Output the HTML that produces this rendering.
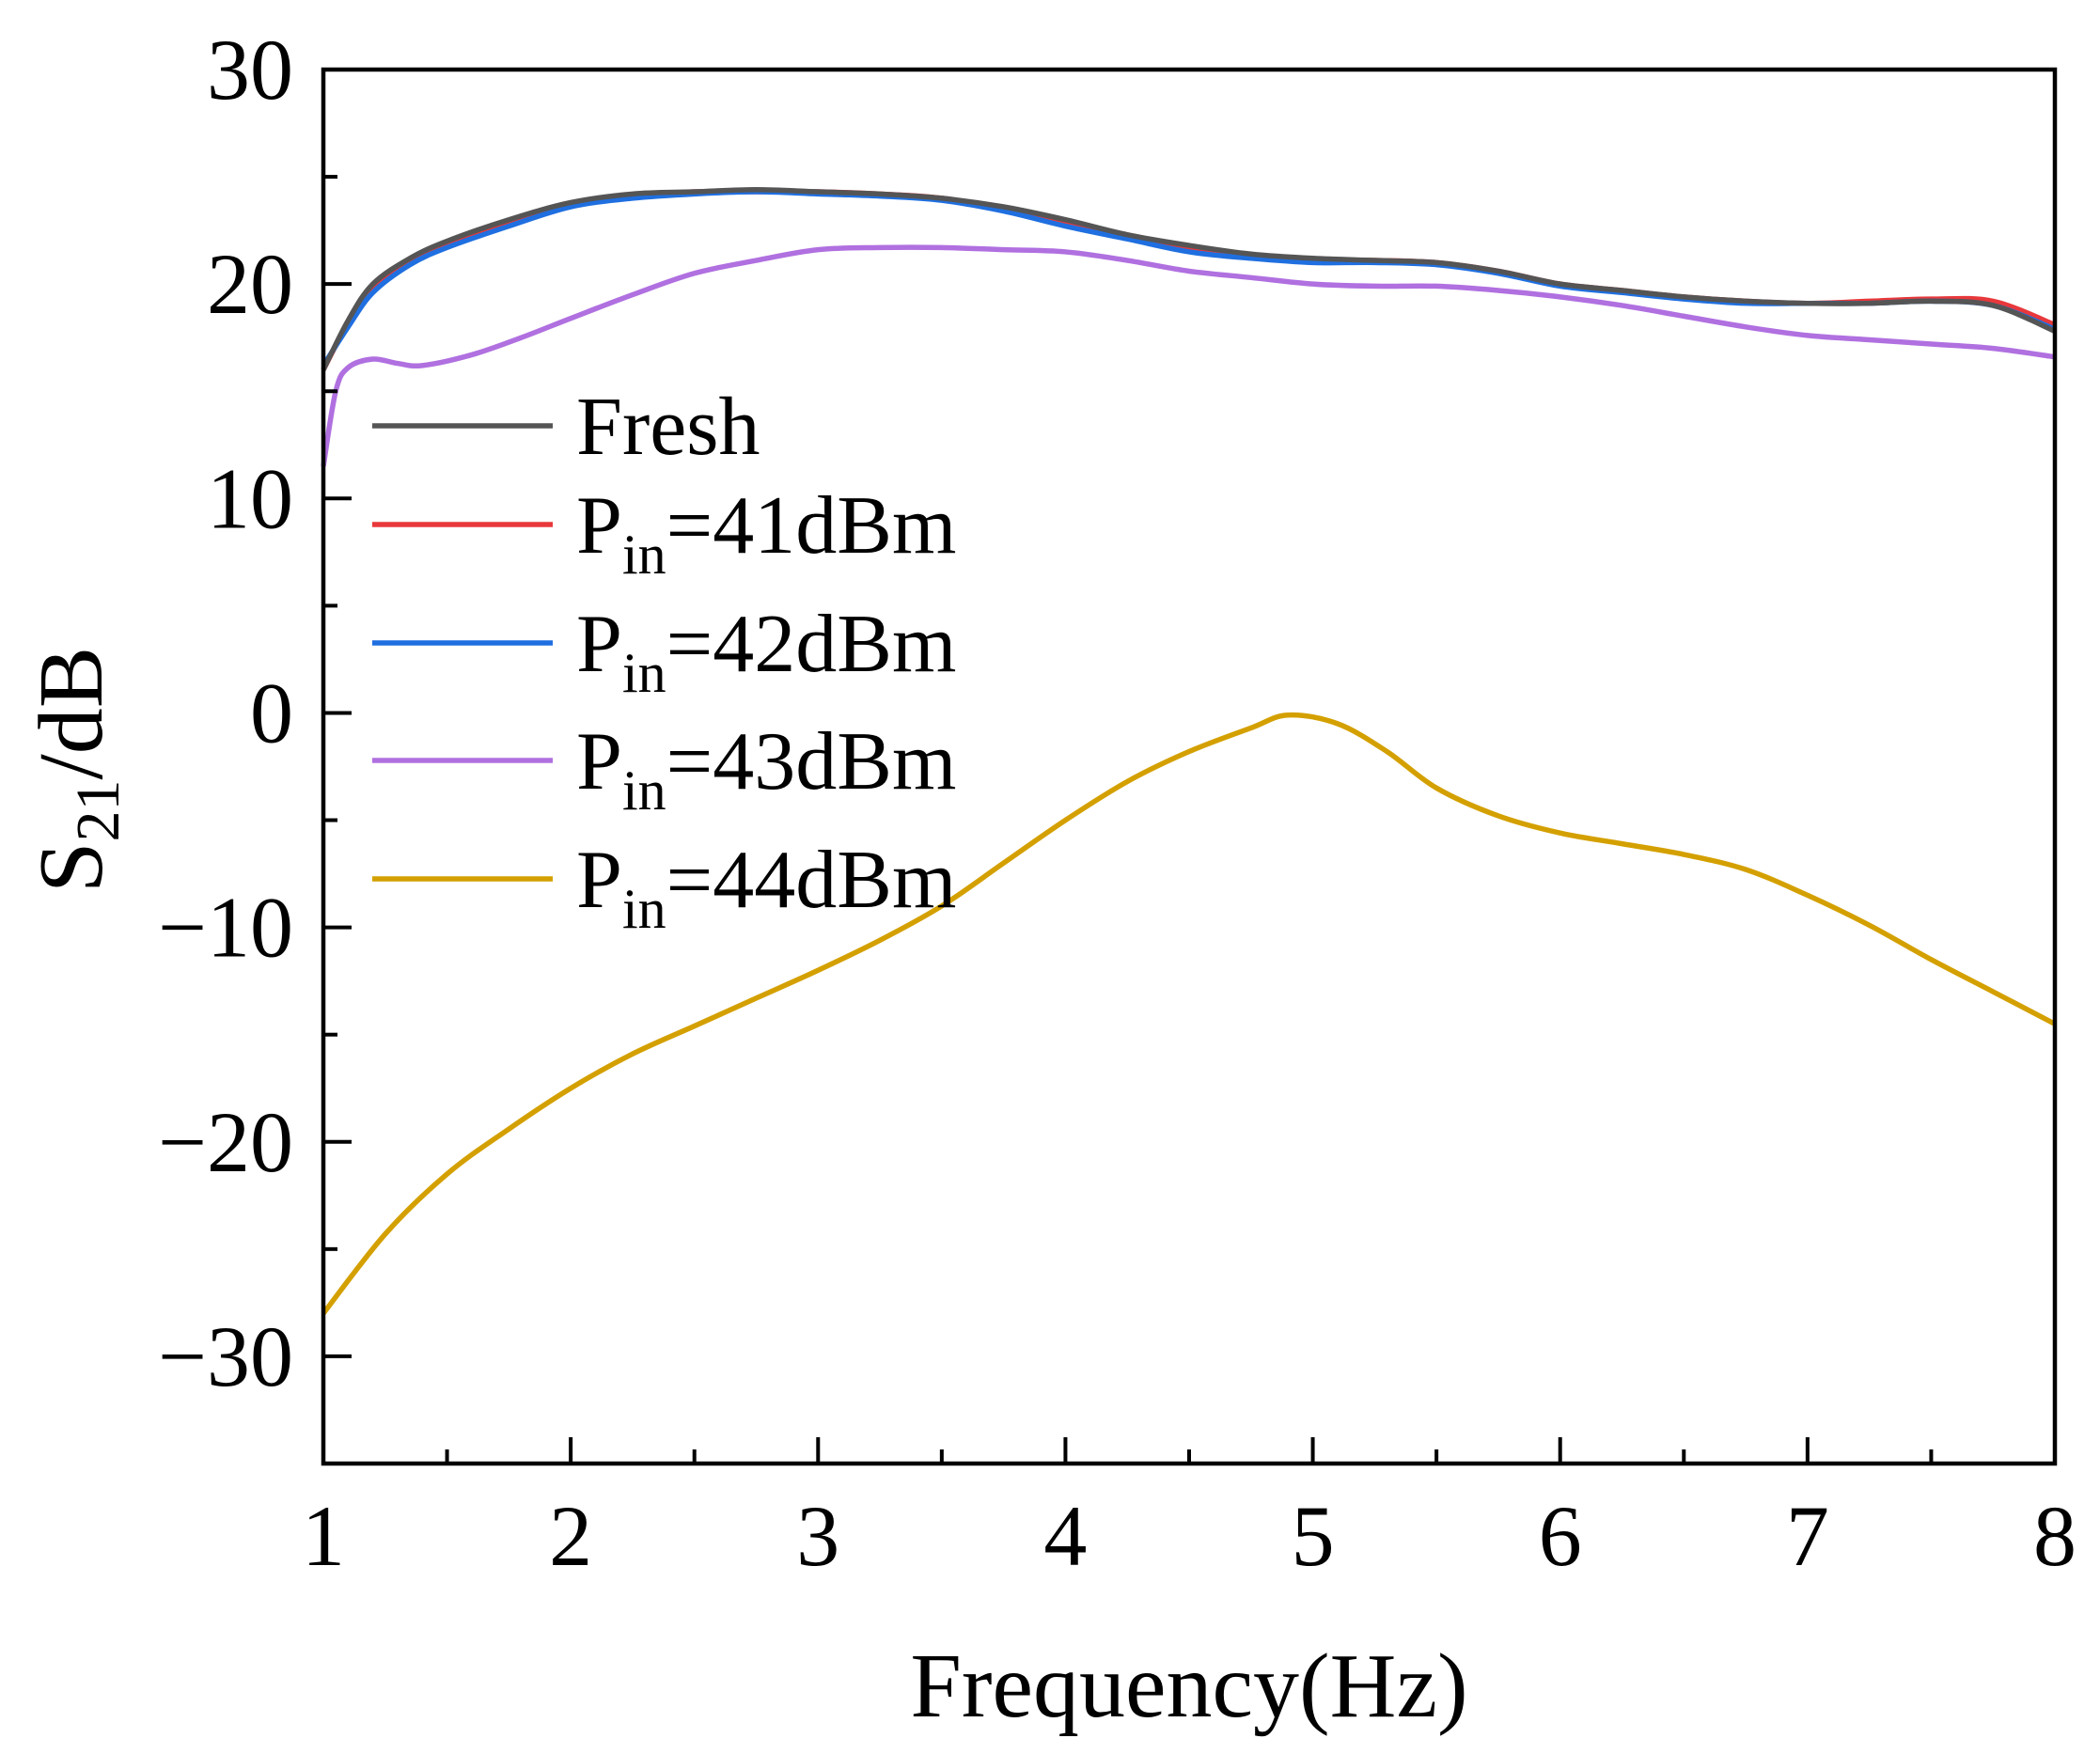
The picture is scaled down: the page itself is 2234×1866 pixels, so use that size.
<!DOCTYPE html>
<html><head><meta charset="utf-8"><style>
html,body{margin:0;padding:0;background:#fff;}
svg{display:block;font-family:"Liberation Serif",serif;}
</style></head><body>
<svg id="chart" width="2234" height="1866" viewBox="0 0 2234 1866" xmlns="http://www.w3.org/2000/svg">
<g id="grid"></g>
<g id="series"></g>
<rect x="344" y="74" width="1842" height="1483" fill="none" stroke="#000" stroke-width="4.5"/>
<g id="ticks"></g>
<text x="1265" y="1826" font-size="98" text-anchor="middle">Frequency(Hz)</text>
<text transform="translate(108,819) rotate(-90)" font-size="98" text-anchor="middle">S<tspan font-size="66" dy="18">21</tspan><tspan dy="-18">/dB</tspan></text>
<g id="legend"></g>
</svg>
<script>
const xTicks=[1,2,3,4,5,6,7,8];
const yTicks=[30,20,10,0,-10,-20,-30];
const seriesNames=["Fresh","41","42","43","44"];
const seriesColors=["#555555","#e8383b","#1f6fe0","#b070e0","#d4a000"];
const freshX=[1,1.1,1.2,1.35,1.5,1.75,2,2.25,2.5,2.75,3,3.25,3.5,3.75,4,4.25,4.5,4.75,5,5.25,5.5,5.75,6,6.25,6.5,6.75,7,7.25,7.5,7.75,8];
const freshY=[16,18.3,20,21.2,22,23,23.8,24.2,24.3,24.4,24.3,24.2,24,23.6,23,22.3,21.8,21.4,21.2,21.1,21,20.6,20,19.7,19.4,19.2,19.1,19.1,19.2,19,17.8];
const p41Y=[16,18.2,19.9,21.1,21.9,22.9,23.7,24.1,24.3,24.3,24.3,24.2,24,23.5,22.9,22.2,21.7,21.3,21.1,21.1,21,20.6,20,19.7,19.4,19.2,19.1,19.2,19.3,19.2,18.1];
const p42Y=[16.2,18,19.6,20.9,21.7,22.7,23.6,24,24.2,24.3,24.2,24.1,23.9,23.4,22.7,22.1,21.5,21.2,21,21,20.9,20.5,19.9,19.6,19.3,19.1,19.1,19.1,19.2,19,17.9];
const p43X=[1,1.05,1.1,1.2,1.3,1.4,1.6,1.8,2,2.25,2.5,2.75,3,3.25,3.5,3.75,4,4.25,4.5,4.75,5,5.25,5.5,5.75,6,6.25,6.5,6.75,7,7.25,7.5,7.75,8];
const p43Y=[11.5,15,16.1,16.5,16.3,16.2,16.7,17.5,18.4,19.5,20.5,21.1,21.6,21.7,21.7,21.6,21.5,21.1,20.6,20.3,20,19.9,19.9,19.7,19.4,19,18.5,18,17.6,17.4,17.2,17,16.6];
const p44X=[1,1.25,1.5,1.75,2,2.25,2.5,2.75,3,3.25,3.5,3.75,4,4.25,4.5,4.75,4.9,5.1,5.3,5.5,5.75,6,6.25,6.5,6.75,7,7.25,7.5,7.75,8];
const p44Y=[-28,-24.3,-21.5,-19.4,-17.5,-15.9,-14.6,-13.3,-12,-10.6,-9,-7,-5,-3.2,-1.8,-0.7,-0.1,-0.5,-1.8,-3.5,-4.8,-5.6,-6.1,-6.6,-7.3,-8.5,-9.9,-11.5,-13,-14.5];
const seriesXs=[freshX,freshX,freshX,p43X,p44X];
const seriesYs=[freshY,p41Y,p42Y,p43Y,p44Y];
const legendLabels=["Fresh","41","42","43","44"];

const X0=344,X1=2186,Y0=1557,Y1=74,xmin=1,xmax=8,ymin=-35,ymax=30;
function sx(v){return X0+(v-xmin)/(xmax-xmin)*(X1-X0);}
function sy(v){return Y0-(v-ymin)/(ymax-ymin)*(Y0-Y1);}
const NS="http://www.w3.org/2000/svg";
function mk(t,a,p){const e=document.createElementNS(NS,t);for(const k in a)e.setAttribute(k,a[k]);p.appendChild(e);return e;}
function smooth(pts){let d="M"+pts[0][0]+","+pts[0][1];for(let i=0;i<pts.length-1;i++){const p0=pts[Math.max(0,i-1)],p1=pts[i],p2=pts[i+1],p3=pts[Math.min(pts.length-1,i+2)];
const c1=[p1[0]+(p2[0]-p0[0])/6,p1[1]+(p2[1]-p0[1])/6],c2=[p2[0]-(p3[0]-p1[0])/6,p2[1]-(p3[1]-p1[1])/6];
d+=" C"+c1[0]+","+c1[1]+" "+c2[0]+","+c2[1]+" "+p2[0]+","+p2[1];}return d;}
const sg=document.getElementById("series");
const order=[4,3,1,2,0];
order.forEach(i=>{const pts=seriesXs[i].map((x,j)=>[sx(x),sy(seriesYs[i][j])]);
const p=mk("path",{d:smooth(pts),fill:"none",stroke:seriesColors[i],"stroke-width":5.5,"stroke-linejoin":"round"},sg);

});
const tg=document.getElementById("ticks");
xTicks.forEach((v,i)=>{const l=mk("line",{x1:sx(v),x2:sx(v),y1:Y0,y2:Y0-28,stroke:"#000","stroke-width":4},tg);

if(i<xTicks.length-1){const m=mk("line",{x1:sx(v+0.5),x2:sx(v+0.5),y1:Y0,y2:Y0-15,stroke:"#000","stroke-width":4},tg);
}
const t=mk("text",{x:sx(v),y:1665,"font-size":92,"text-anchor":"middle"},tg);t.textContent=v;
});
yTicks.forEach(v=>{const l=mk("line",{x1:X0,x2:X0+30,y1:sy(v),y2:sy(v),stroke:"#000","stroke-width":4},tg);

const m=mk("line",{x1:X0,x2:X0+15,y1:sy(v-5),y2:sy(v-5),stroke:"#000","stroke-width":4},tg);

const t=mk("text",{x:312,y:sy(v)+31,"font-size":92,"text-anchor":"end"},tg);t.textContent=v<0?"\u2212"+(-v):v;
});
const lg=document.getElementById("legend");
const ly=[453,558,684,809,935];
legendLabels.forEach((s,i)=>{const g=mk("g",{},lg);
mk("line",{x1:396,x2:588,y1:ly[i],y2:ly[i],stroke:seriesColors[i],"stroke-width":5.5},g);
const t=mk("text",{x:613,y:ly[i]+30,"font-size":88},g);
if(i===0){t.textContent="Fresh";}else{t.innerHTML='P<tspan font-size="60" dy="22">in</tspan><tspan dy="-22">='+s+'dBm</tspan>';}});
</script>
</body></html>
